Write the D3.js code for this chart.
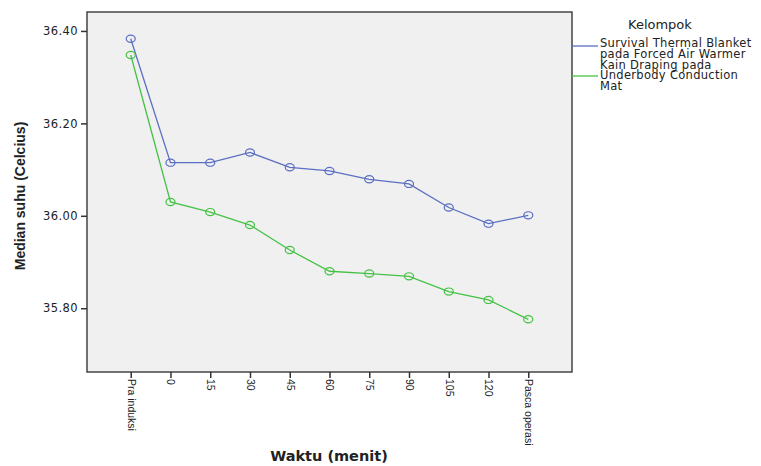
<!DOCTYPE html>
<html>
<head>
<meta charset="utf-8">
<script src="https://cdn.jsdelivr.net/npm/d3@7"></script>
<style>
  body { margin:0; background:#fff; }
  text { font-family: "DejaVu Sans", sans-serif; fill:#222; }
</style>
</head>
<body>
<div id="chart"></div>
<script>
// waktu pengukuran
var categories = ["Pra induksi","0","15","30","45","60","75","90","105","120","Pasca operasi"];
var seriesNames = ["Survival Thermal Blanket pada Forced Air Warmer", "Kain Draping pada Underbody Conduction Mat"];
var blanketValues = [36.383, 36.115, 36.115, 36.137, 36.105, 36.097, 36.079, 36.069, 36.018, 35.983, 36.001];
var drapingValues = [36.348, 36.030, 36.008, 35.980, 35.926, 35.880, 35.875, 35.869, 35.836, 35.818, 35.776];
var yTicks = [35.8, 36.0, 36.2, 36.4];
var legendLines = [["Survival Thermal Blanket","pada Forced Air Warmer"],["Kain Draping pada","Underbody Conduction","Mat"]];

var W = 761, H = 466;
var plot = {left:87, right:572, top:12, bottom:372};
var colors = ["#5a6fc2", "#45c245"];

var svg = d3.select("#chart").append("svg").attr("width", W).attr("height", H);

var x = d3.scalePoint().domain(categories).range([plot.left, plot.right]).padding(1.1);
var y = d3.scaleLinear().domain([35.662, 36.441]).range([plot.bottom, plot.top]);

svg.append("rect").attr("x", plot.left).attr("y", plot.top)
  .attr("width", plot.right-plot.left).attr("height", plot.bottom-plot.top)
  .attr("fill", "#f0f0f0").attr("stroke", "#444").attr("stroke-width", 1.5);

// y axis
var yAxis = svg.append("g").attr("transform", "translate(" + plot.left + ",0)")
  .call(d3.axisLeft(y).tickValues(yTicks).tickFormat(d3.format(".2f")).tickSize(6).tickPadding(3));
yAxis.select(".domain").remove();
yAxis.selectAll("line").attr("stroke", "#333").attr("stroke-width", 1.5);
yAxis.selectAll("text").style("font-size", "11.5px").style("font-family", "DejaVu Sans")
  .style("letter-spacing", "0.4px").attr("fill", "#333");

// x axis
var xAxis = svg.append("g").attr("transform", "translate(0," + plot.bottom + ")")
  .call(d3.axisBottom(x).tickSize(6).tickPadding(3));
xAxis.select(".domain").remove();
xAxis.selectAll("line").attr("stroke", "#333").attr("stroke-width", 1.5);
xAxis.selectAll("text")
  .style("font-size", "10.5px").style("font-family", "Liberation Sans")
  .attr("fill", "#222")
  .attr("text-anchor", "start")
  .attr("dy", "0.35em")
  .attr("transform", "translate(0,7) rotate(90)")
  .attr("y", 0).attr("x", 0);

// lines
var allSeries = [blanketValues, drapingValues];
var line = d3.line().x(function(d,i){ return x(categories[i]); }).y(function(d){ return y(d); });
allSeries.forEach(function(vals, k){
  svg.append("path").datum(vals).attr("d", line)
    .attr("fill", "none").attr("stroke", colors[k]).attr("stroke-width", 1.3);
  svg.selectAll(".pt" + k).data(vals).enter().append("ellipse")
    .attr("cx", function(d,i){ return x(categories[i]); })
    .attr("cy", function(d){ return y(d); })
    .attr("rx", 4.5).attr("ry", 3.6)
    .attr("fill", "none").attr("stroke", colors[k]).attr("stroke-width", 1.2);
});

// axis titles
svg.append("text").attr("x", 329).attr("y", 461).attr("text-anchor", "middle")
  .style("font-size", "14.5px").style("font-weight", "bold").text("Waktu (menit)");
svg.append("text").attr("transform", "translate(25,196) rotate(-90)").attr("text-anchor", "middle")
  .style("font-size", "14px").style("font-weight", "bold").style("font-family", "Liberation Sans").text("Median suhu (Celcius)");

// legend
svg.append("text").attr("x", 628).attr("y", 29).style("font-size", "13px").attr("fill", "#333").text("Kelompok");
var legendY = [46, 76];
var lineStarts = [[43, 54], [64.5, 75, 85.5]];
legendLines.forEach(function(rows, k){
  svg.append("line").attr("x1", plot.right).attr("x2", 598)
    .attr("y1", legendY[k]).attr("y2", legendY[k]).attr("stroke", colors[k]).attr("stroke-width", 1.3);
  rows.forEach(function(r, j){
    svg.append("text").attr("x", 600).attr("y", lineStarts[k][j]).attr("dy", "0.35em")
      .style("font-size", "11.5px").style("letter-spacing", "0.3px").attr("fill", "#111").text(r);
  });
});
</script>
</body>
</html>
